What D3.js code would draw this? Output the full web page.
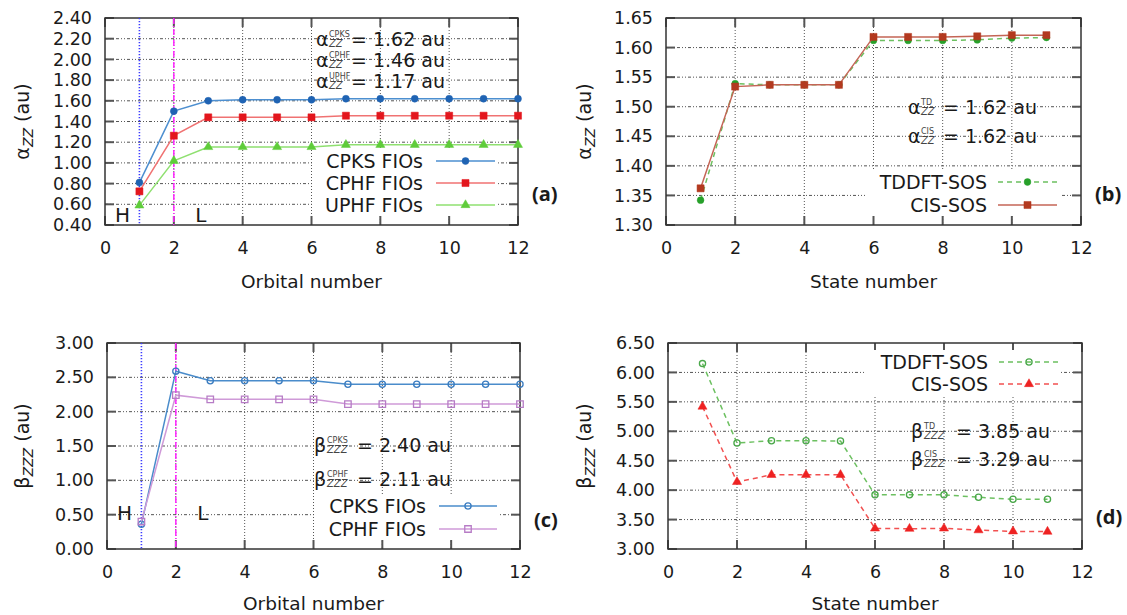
<!DOCTYPE html>
<html>
<head>
<meta charset="utf-8">
<script src="https://cdn.jsdelivr.net/npm/d3@7"></script>
<style>
  body { margin: 0; background: #fff; }
  text { font-family: "DejaVu Sans", sans-serif; fill: #1a1a1a; }
</style>
</head>
<body>
<svg id="chart" width="1127" height="615"></svg>
<script>
// x categories
const orbitals = [1, 2, 3, 4, 5, 6, 7, 8, 9, 10, 11, 12]
const states = [1, 2, 3, 4, 5, 6, 7, 8, 9, 10, 11]
const xTicks = [0, 2, 4, 6, 8, 10, 12]

// (a) alpha_zz from FIOs
const alphaCPKS = [0.81, 1.50, 1.60, 1.61, 1.61, 1.61, 1.62, 1.62, 1.62, 1.62, 1.62, 1.62]
const alphaCPHF = [0.725, 1.263, 1.44, 1.44, 1.44, 1.44, 1.456, 1.456, 1.456, 1.456, 1.456, 1.456]
const alphaUPHF = [0.59, 1.02, 1.154, 1.154, 1.154, 1.154, 1.175, 1.175, 1.175, 1.175, 1.175, 1.175]
const alphaTicks = [0.40, 0.60, 0.80, 1.00, 1.20, 1.40, 1.60, 1.80, 2.00, 2.20, 2.40]

// (b) alpha_zz SOS
const alphaTD = [1.342, 1.539, 1.537, 1.537, 1.537, 1.612, 1.612, 1.612, 1.613, 1.616, 1.617]
const alphaCIS = [1.362, 1.534, 1.537, 1.537, 1.537, 1.618, 1.618, 1.618, 1.619, 1.621, 1.621]
const alphaSosTicks = [1.30, 1.35, 1.40, 1.45, 1.50, 1.55, 1.60, 1.65]

// (c) beta_zzz from FIOs
const betaCPKS = [0.36, 2.59, 2.45, 2.45, 2.45, 2.45, 2.40, 2.40, 2.40, 2.40, 2.40, 2.40]
const betaCPHF = [0.40, 2.24, 2.18, 2.18, 2.18, 2.18, 2.11, 2.11, 2.11, 2.11, 2.11, 2.11]
const betaTicks = [0.00, 0.50, 1.00, 1.50, 2.00, 2.50, 3.00]

// (d) beta_zzz SOS
const betaTD = [6.15, 4.80, 4.84, 4.84, 4.835, 3.92, 3.92, 3.92, 3.88, 3.845, 3.845]
const betaCIS = [5.42, 4.14, 4.26, 4.26, 4.26, 3.35, 3.345, 3.35, 3.32, 3.30, 3.295]
const betaSosTicks = [3.00, 3.50, 4.00, 4.50, 5.00, 5.50, 6.00, 6.50]

const svg = d3.select('#chart')

const shapes = {
  circle: d3.symbolCircle,
  square: d3.symbolSquare,
  triangle: d3.symbolTriangle
}

const drawMarker = (g, x, y, s) => {
  g.append('path')
    .attr('transform', `translate(${x},${y})`)
    .attr('d', d3.symbol().type(shapes[s.shape]).size(s.size || 40)())
    .attr('fill', s.open ? 'none' : s.markerColor)
    .attr('stroke', s.markerColor)
    .attr('stroke-width', s.open ? 1.3 : 0.5)
}

const addNote = (g, x, y, sym, sup, sub, value, eqDx) => {
  g.append('text').attr('x', x).attr('y', y).style('font-size', '19px').text(sym)
  g.append('text').attr('x', x + 13).attr('y', y - 9).style('font-size', '8px').style('fill', '#444').text(sup)
  g.append('text').attr('x', x + 13).attr('y', y + 1).style('font-size', '10px')
    .style('font-style', 'italic').style('fill', '#444').text(sub)
  g.append('text').attr('x', x + eqDx).attr('y', y).style('font-size', '19px').text('= ' + value)
}

const drawPanel = p => {
  const { left, right, top, bottom } = p.frame
  const x = d3.scaleLinear().domain([0, 12]).range([left, right])
  const y = d3.scaleLinear().domain([p.yTicks[0], p.yTicks[p.yTicks.length - 1]]).range([bottom, top])
  const g = svg.append('g')

  // grid
  g.append('g').selectAll('line').data(p.yTicks.slice(1, -1)).enter().append('line')
    .attr('x1', left).attr('x2', right).attr('y1', d => y(d)).attr('y2', d => y(d))
    .attr('stroke', '#555').attr('stroke-width', 1).attr('stroke-dasharray', '3,2,1,2,1,2')
  g.append('g').selectAll('line').data(xTicks.slice(1, -1)).enter().append('line')
    .attr('x1', d => x(d)).attr('x2', d => x(d)).attr('y1', top).attr('y2', bottom)
    .attr('stroke', '#555').attr('stroke-width', 1).attr('stroke-dasharray', '1,2')

  // inner tick marks on all sides
  const tl = 9
  g.append('g').selectAll('line').data(p.yTicks).enter().append('line')
    .attr('x1', left).attr('x2', left + tl).attr('y1', d => y(d)).attr('y2', d => y(d))
    .attr('stroke', '#555').attr('stroke-width', 2)
  g.append('g').selectAll('line').data(p.yTicks).enter().append('line')
    .attr('x1', right - tl).attr('x2', right).attr('y1', d => y(d)).attr('y2', d => y(d))
    .attr('stroke', '#555').attr('stroke-width', 2)
  g.append('g').selectAll('line').data(xTicks).enter().append('line')
    .attr('x1', d => x(d)).attr('x2', d => x(d)).attr('y1', bottom - tl).attr('y2', bottom)
    .attr('stroke', '#555').attr('stroke-width', 2)
  g.append('g').selectAll('line').data(xTicks).enter().append('line')
    .attr('x1', d => x(d)).attr('x2', d => x(d)).attr('y1', top).attr('y2', top + tl)
    .attr('stroke', '#555').attr('stroke-width', 2)

  // axes labels via d3 axes
  const ya = g.append('g').attr('transform', `translate(${left},0)`)
    .call(d3.axisLeft(y).tickValues(p.yTicks).tickFormat(d3.format('.2f')).tickSize(0).tickPadding(13))
  const xa = g.append('g').attr('transform', `translate(0,${bottom})`)
    .call(d3.axisBottom(x).tickValues(xTicks).tickFormat(d3.format('d')).tickSize(0).tickPadding(17))
  ;[ya, xa].forEach(a => {
    a.attr('font-family', null).attr('font-size', null)
    a.select('.domain').remove()
    a.selectAll('text').style('font-size', '17.5px').attr('fill', null)
  })

  // frame
  g.append('rect').attr('x', left).attr('y', top)
    .attr('width', right - left).attr('height', bottom - top)
    .attr('fill', 'none').attr('stroke', '#333').attr('stroke-width', 1.5)

  // HOMO / LUMO markers
  if (p.homoLumo) {
    g.append('line').attr('x1', x(1)).attr('x2', x(1)).attr('y1', top).attr('y2', bottom)
      .attr('stroke', '#3c3cff').attr('stroke-width', 1.6).attr('stroke-dasharray', '1.2,1.8')
    g.append('line').attr('x1', x(2)).attr('x2', x(2)).attr('y1', top).attr('y2', bottom)
      .attr('stroke', '#ff22ff').attr('stroke-width', 1.5).attr('stroke-dasharray', '6,2,1,2')
    g.append('text').attr('x', x(1) - 17).attr('y', p.hlY).attr('text-anchor', 'middle')
      .style('font-size', '20px').text('H')
    g.append('text').attr('x', x(2) + 27).attr('y', p.hlY).attr('text-anchor', 'middle')
      .style('font-size', '20px').text('L')
  }

  // series
  p.series.forEach(s => {
    const pts = s.xs.map((d, i) => [x(d), y(s.ys[i])])
    g.append('path').attr('d', d3.line()(pts))
      .attr('fill', 'none').attr('stroke', s.color).attr('stroke-width', 1.5)
      .attr('stroke-dasharray', s.dash || null)
    pts.forEach(pt => drawMarker(g, pt[0], pt[1], s))
  })

  // legend
  const lg = p.legend
  g.append('rect').attr('x', lg.box[0]).attr('y', lg.box[1])
    .attr('width', lg.box[2] - lg.box[0]).attr('height', lg.box[3] - lg.box[1]).attr('fill', '#fff')
  p.series.forEach((s, i) => {
    const ry = lg.y + i * lg.dy
    g.append('text').attr('x', lg.textX).attr('y', ry + 7).attr('text-anchor', 'end')
      .style('font-size', '19px').text(s.name)
    g.append('line').attr('x1', lg.x1).attr('x2', lg.x2).attr('y1', ry).attr('y2', ry)
      .attr('stroke', s.color).attr('stroke-width', 1.5).attr('stroke-dasharray', s.dash || null)
    drawMarker(g, (lg.x1 + lg.x2) / 2, ry, s)
  })

  // annotations
  p.notes.forEach(n => addNote(g, p.noteX, n.y, p.sym, n.sup, p.sub, n.value, p.eqDx))

  // axis titles
  g.append('text').attr('x', (left + right) / 2).attr('y', p.xTitleY).attr('text-anchor', 'middle')
    .style('font-size', '18.5px').text(p.xTitle)
  const yt = g.append('text')
    .attr('transform', `translate(${p.yTitleX},${(top + bottom) / 2}) rotate(-90)`)
    .attr('text-anchor', 'middle').style('font-size', '19px')
  yt.append('tspan').text(p.sym)
  yt.append('tspan').attr('dy', 4).style('font-size', '14px').style('font-style', 'italic').text(p.sub)
  yt.append('tspan').attr('dy', -4).text(' (au)')

  // panel tag
  g.append('text').attr('x', right + 14).attr('y', p.tagY)
    .style('font-family', '"Open Sans", sans-serif').style('font-weight', 'bold')
    .style('font-size', '20px').text(p.tag)
}

drawPanel({
  frame: { left: 105, right: 518, top: 18, bottom: 225 },
  yTicks: alphaTicks,
  homoLumo: true, hlY: 222,
  series: [
    { name: 'CPKS FIOs', xs: orbitals, ys: alphaCPKS, color: '#4d8fd0', markerColor: '#1f63b3', shape: 'circle', size: 38 },
    { name: 'CPHF FIOs', xs: orbitals, ys: alphaCPHF, color: '#f07272', markerColor: '#e3161d', shape: 'square', size: 50 },
    { name: 'UPHF FIOs', xs: orbitals, ys: alphaUPHF, color: '#8fe070', markerColor: '#5fcc3a', shape: 'triangle', size: 36 }
  ],
  legend: { textX: 423, x1: 436, x2: 495, y: 161, dy: 22, box: [312, 150, 497, 216] },
  sym: 'α', sub: 'ZZ', noteX: 316, eqDx: 35,
  notes: [
    { y: 46, sup: 'CPKS', value: '1.62 au' },
    { y: 67, sup: 'CPHF', value: '1.46 au' },
    { y: 88, sup: 'UPHF', value: '1.17 au' }
  ],
  xTitle: 'Orbital number', xTitleY: 288, yTitleX: 29, tag: '(a)', tagY: 201
})

drawPanel({
  frame: { left: 666, right: 1081, top: 18, bottom: 225 },
  yTicks: alphaSosTicks,
  series: [
    { name: 'TDDFT-SOS', xs: states, ys: alphaTD, color: '#6cc060', markerColor: '#27a02a', shape: 'circle', size: 36, dash: '5,4' },
    { name: 'CIS-SOS', xs: states, ys: alphaCIS, color: '#c46556', markerColor: '#b3391f', shape: 'square', size: 50 }
  ],
  legend: { textX: 987, x1: 998, x2: 1057, y: 182, dy: 23, box: [865, 171, 1060, 216] },
  sym: 'α', sub: 'ZZ', noteX: 908, eqDx: 35,
  notes: [
    { y: 114, sup: 'TD', value: '1.62 au' },
    { y: 143, sup: 'CIS', value: '1.62 au' }
  ],
  xTitle: 'State number', xTitleY: 288, yTitleX: 591, tag: '(b)', tagY: 201
})

drawPanel({
  frame: { left: 107, right: 520, top: 343, bottom: 549 },
  yTicks: betaTicks,
  homoLumo: true, hlY: 520,
  series: [
    { name: 'CPKS FIOs', xs: orbitals, ys: betaCPKS, color: '#4a8ccb', markerColor: '#3a7cc0', shape: 'circle', size: 30, open: true },
    { name: 'CPHF FIOs', xs: orbitals, ys: betaCPHF, color: '#cf9ad8', markerColor: '#b77cc6', shape: 'square', size: 42, open: true }
  ],
  legend: { textX: 426, x1: 439, x2: 497, y: 506, dy: 23, box: [314, 494, 498, 540] },
  sym: 'β', sub: 'ZZZ', noteX: 314, eqDx: 43,
  notes: [
    { y: 452, sup: 'CPKS', value: '2.40 au' },
    { y: 486, sup: 'CPHF', value: '2.11 au' }
  ],
  xTitle: 'Orbital number', xTitleY: 610, yTitleX: 29, tag: '(c)', tagY: 527
})

drawPanel({
  frame: { left: 668, right: 1082, top: 343, bottom: 549 },
  yTicks: betaSosTicks,
  series: [
    { name: 'TDDFT-SOS', xs: states, ys: betaTD, color: '#6cc060', markerColor: '#4aa84a', shape: 'circle', size: 30, open: true, dash: '5,4' },
    { name: 'CIS-SOS', xs: states, ys: betaCIS, color: '#f25050', markerColor: '#ee2222', shape: 'triangle', size: 36, dash: '5,4' }
  ],
  legend: { textX: 988, x1: 999, x2: 1059, y: 362, dy: 22, box: [866, 350, 1060, 396] },
  sym: 'β', sub: 'ZZZ', noteX: 911, eqDx: 45,
  notes: [
    { y: 438, sup: 'TD', value: '3.85 au' },
    { y: 466, sup: 'CIS', value: '3.29 au' }
  ],
  xTitle: 'State number', xTitleY: 610, yTitleX: 591, tag: '(d)', tagY: 524
})
</script>
</body>
</html>
